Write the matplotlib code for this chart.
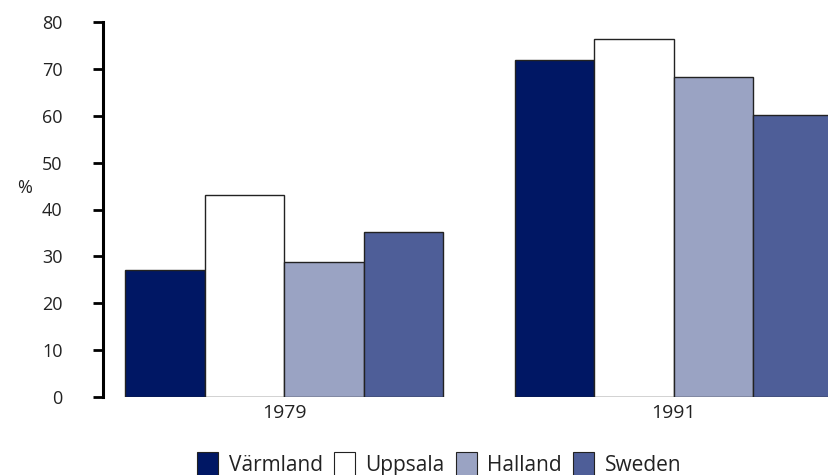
import numpy as np
import matplotlib.pyplot as plt
from matplotlib.patches import Patch

years = ['1979', '1991']
regions = ['Värmland', 'Uppsala', 'Halland', 'Sweden']
values = {
    'Värmland': [27.2, 72.0],
    'Uppsala': [43.0, 76.4],
    'Halland': [28.9, 68.2],
    'Sweden': [35.2, 60.2],
}
colors = ['#001764', '#ffffff', '#9aa3c3', '#4e5e98']

plt.rcParams['font.family'] = ['Open Sans', 'DejaVu Sans']

fig = plt.figure(figsize=(8.29, 4.75), dpi=100)
ax = fig.add_axes([103 / 829, 1 - 397 / 475, 1 - 103 / 829, (397 - 22) / 475])

group_x = np.array([0.0, 4.9])  # left bar center of each group
for i, reg in enumerate(regions):
    ax.bar(group_x + i, values[reg], width=1.0, color=colors[i],
           edgecolor='#222222', linewidth=1.0)

ax.set_xlim(-0.777, 8.355)
ax.set_ylim(0, 80)
ax.set_yticks(range(0, 81, 10))
ax.set_xticks(group_x + 1.5)
ax.set_xticklabels(years, fontsize=14, color='#222222')
ax.tick_params(axis='x', length=0, pad=5)
ax.tick_params(axis='y', direction='out', length=7, width=2, pad=22,
               labelsize=13, labelcolor='#222222')
for s in ['top', 'right', 'bottom']:
    ax.spines[s].set_visible(False)
ax.spines['left'].set_linewidth(2.2)

fig.text(25 / 829, 1 - 188 / 475, '%', fontsize=13, color='#222222',
         ha='center', va='center')

handles = [Patch(facecolor=c, edgecolor='#222222', linewidth=0.8) for c in colors]
fig.legend(handles, regions, loc='center', bbox_to_anchor=(0.53, 0.022),
           ncol=4, frameon=False, fontsize=15, handlelength=1.0,
           handleheight=1.5, handletextpad=0.5, columnspacing=0.55,
           labelcolor='#222222', borderpad=0)

fig.savefig('out.png', dpi=100)
